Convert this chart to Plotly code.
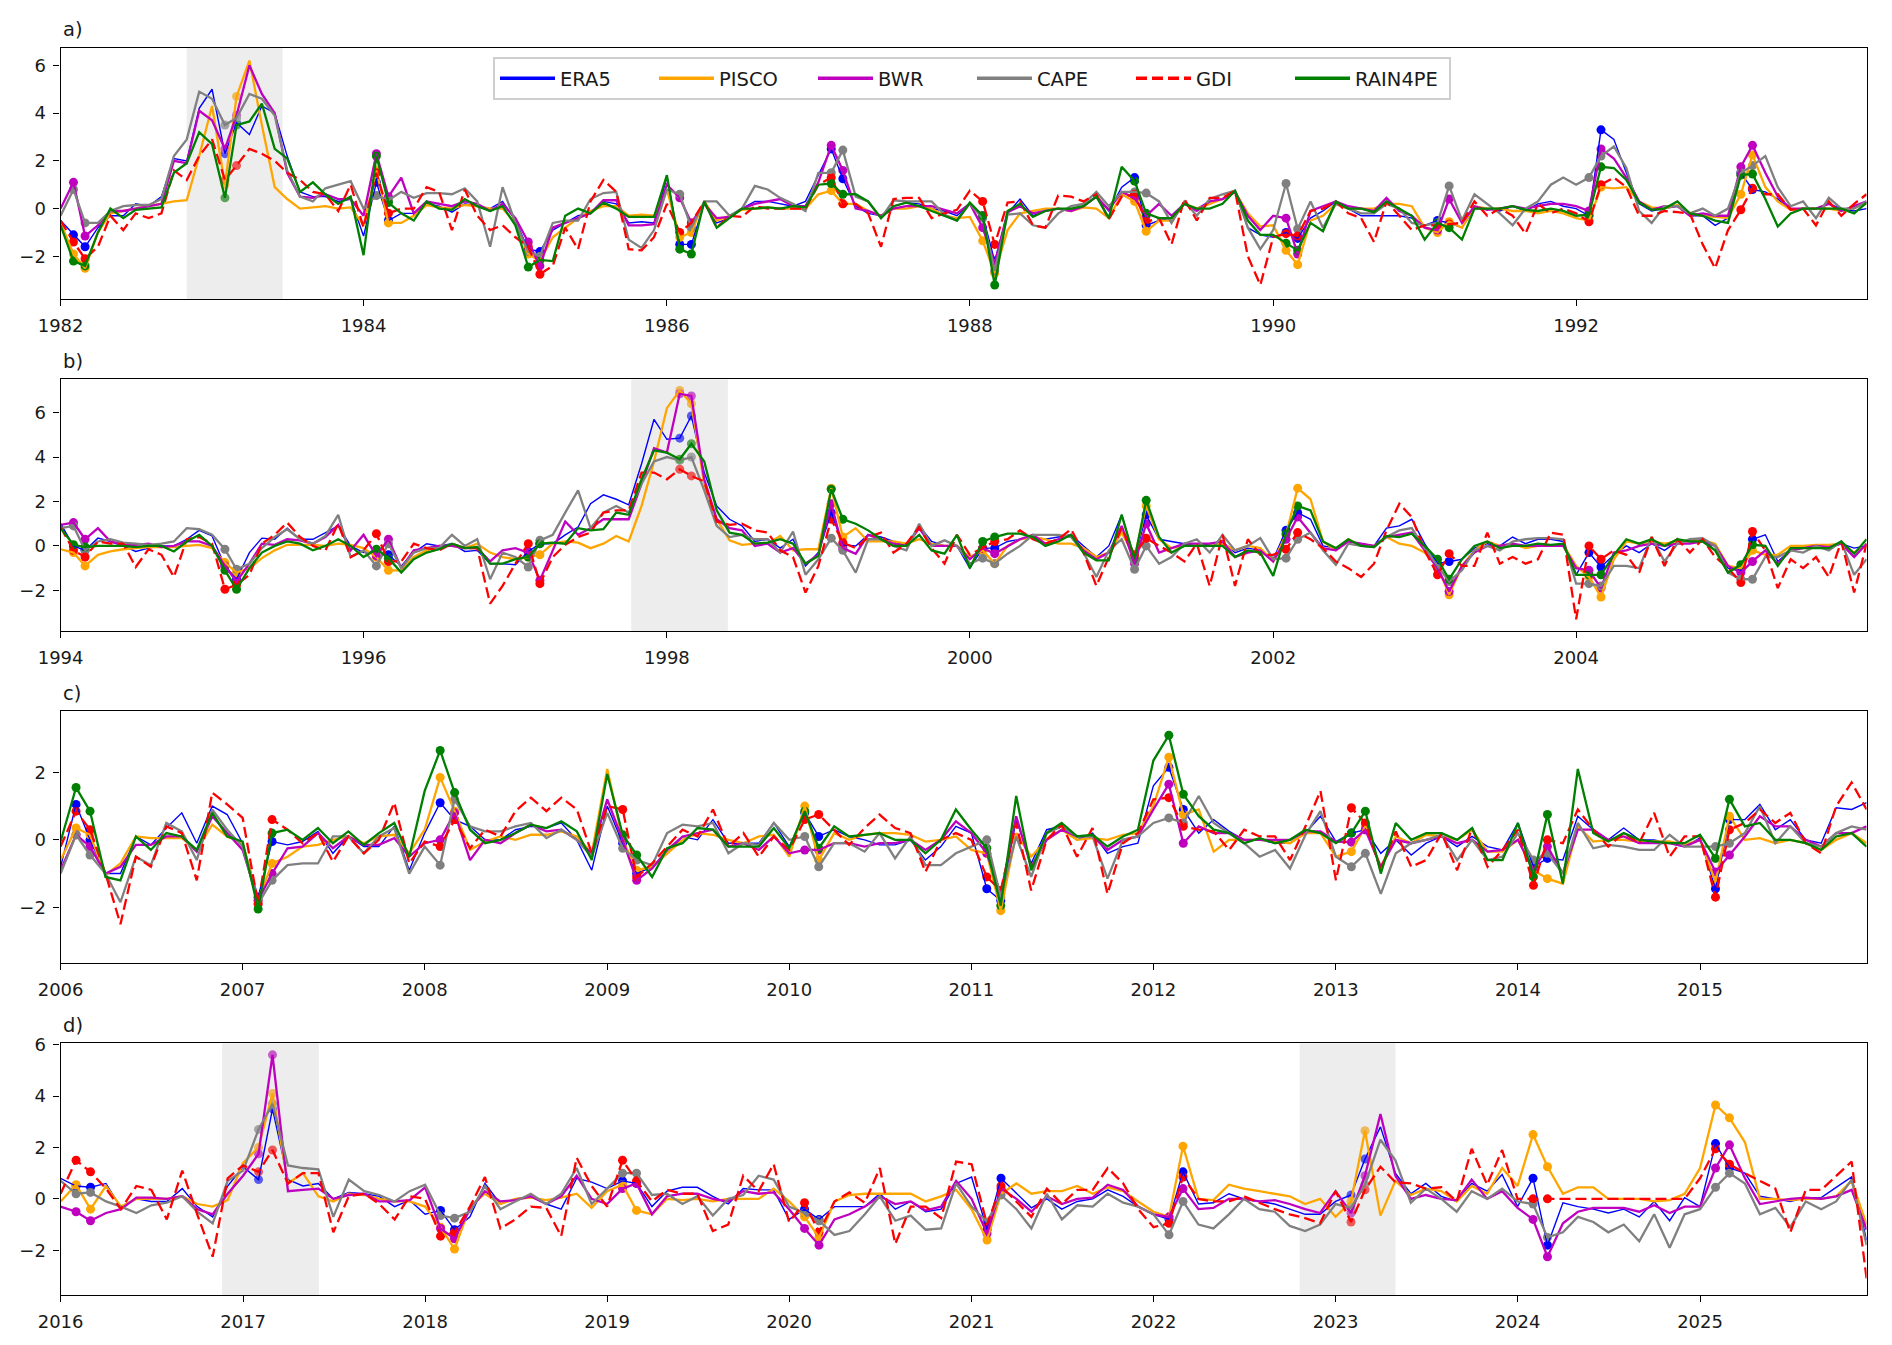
import plotly.graph_objects as go
import pandas as pd

# ---------------- data (monthly anomalies) ----------------
SERIES = ["ERA5", "PISCO", "BWR", "CAPE", "GDI", "RAIN4PE"]
COLORS = {"ERA5": "#0000ff", "PISCO": "#ffa500", "BWR": "#bf00bf",
          "CAPE": "#808080", "GDI": "#ff0000", "RAIN4PE": "#008000"}

PANEL_LABELS = ["a)", "b)", "c)", "d)"]
PANEL_START = ["1982-01-01", "1994-01-01", "2006-01-01", "2016-01-01"]
PANEL_MONTHS = [144, 144, 120, 120]
PANEL_YRANGE = [[-3.80, 6.74], [-3.83, 7.50], [-3.66, 3.81], [-3.75, 6.05]]
PANEL_DTICK = ["M24", "M24", "M12", "M12"]
PANEL_YTICKS = [[-2, 0, 2, 4, 6], [-2, 0, 2, 4, 6], [-2, 0, 2], [-2, 0, 2, 4, 6]]

# shaded periods (start, end) per panel
SPANS = [
    [("1982-11-01", "1983-06-20")],
    [("1997-10-07", "1998-05-28")],
    [],
    [("2016-11-20", "2017-06-02"), ("2022-10-21", "2023-05-01")],
]

ERA5_a = [-0.5, -1.1, -1.6, -0.8, -0.3, -0.3, 0.2, 0.1, 0.5, 2.1, 2.0, 4.2,
          5.0, 2.3, 3.6, 3.1, 4.3, 4.0, 2.2, 0.7, 0.5, 0.5, 0.3, 0.4,
          -1.15, 1.1, -0.5, -0.2, -0.2, 0.2, 0.1, -0.15, 0.2, 0.1, 0.0, 0.3,
          -0.5, -1.7, -1.8, -0.9, -0.6, -0.3, -0.2, 0.3, 0.2, -0.6, -0.55, -0.6,
          1.3, -1.5, -1.5, 0.2, -0.6, -0.4, 0.0, 0.3, 0.3, 0.2, 0.1, 0.3,
          1.4, 2.5, 1.25, 0.1, -0.2, -0.3, 0.1, 0.25, 0.2, 0.0, -0.1, -0.3,
          0.2, -0.3, -2.2, -0.2, 0.4, -0.3, -0.1, 0.0, -0.05, 0.1, 0.5, -0.1,
          0.9, 1.3, -0.7, -0.5, -0.4, 0.2, 0.0, 0.3, 0.4, 0.7, -0.8, -1.1,
          -1.2, -1.0, -1.25, -0.4, -0.1, 0.3, 0.0, -0.3, -0.3, -0.3, -0.3, -0.4,
          -0.7, -0.5, -0.6, -0.8, 0.0, 0.0, -0.1, 0.1, -0.1, 0.2, 0.3, 0.1,
          0.0, -0.3, 3.3, 2.9, 1.5, 0.2, -0.1, 0.0, 0.1, -0.3, -0.3, -0.7,
          -0.4, 1.5, 0.8, 0.7, 0.4, -0.05, 0.0, 0.0, 0.2, 0.0, -0.1, 0.0]
PISCO_a = [-0.6, -1.9, -2.5, -1.0, -0.2, -0.1, 0.0, 0.1, 0.2, 0.3, 0.35, 2.2,
           4.3, 1.0, 4.7, 6.2, 3.5, 0.9, 0.4, 0.0, 0.05, 0.1, 0.0, 0.05,
           -0.7, 1.6, -0.6, -0.6, -0.3, 0.15, 0.05, 0.0, 0.15, 0.1, 0.0, 0.0,
           -0.6, -1.9, -2.2, -1.2, -0.8, -0.4, -0.1, 0.1, 0.1, -0.3, -0.25, -0.3,
           0.8, -1.2, -1.0, 0.3, -0.5, -0.3, -0.05, 0.0, 0.05, 0.0, 0.0, 0.0,
           0.6, 0.75, 0.2, 0.2, -0.1, -0.3, 0.0, 0.0, 0.1, 0.0, -0.3, -0.4,
           -0.35, -1.35, -2.7, -0.9, -0.2, -0.1, 0.0, 0.0, -0.1, 0.05, 0.0, -0.4,
           0.6, 0.3, -0.95, -0.5, -0.5, 0.2, 0.0, 0.2, 0.4, 0.7, -0.2, -0.75,
           -0.7, -1.75, -2.35, -0.5, -0.3, 0.2, 0.0, 0.0, 0.0, 0.2, 0.2, 0.1,
           -0.8, -1.0, -0.55, -0.8, 0.1, 0.0, 0.0, -0.1, -0.1, -0.2, -0.1, -0.2,
           -0.4, -0.5, 0.9, 0.85, 0.9, 0.3, 0.05, 0.0, 0.15, -0.2, -0.3, -0.35,
           -0.4, 0.6, 2.25, 0.9, 0.3, -0.05, 0.0, 0.0, 0.0, -0.1, 0.05, 0.2]
BWR_a = [0.0, 1.1, -1.15, -0.7, -0.1, -0.1, 0.0, 0.1, 0.2, 2.0, 1.9, 4.1,
         3.7, 2.5, 3.9, 6.0, 4.8, 4.0, 1.5, 0.5, 0.45, 0.6, 0.4, 0.4,
         -0.3, 2.3, 0.5, 1.3, -0.2, 0.3, 0.2, 0.1, 0.3, 0.2, -0.1, 0.2,
         -0.4, -1.4, -2.4, -0.8, -0.6, -0.4, -0.2, 0.35, 0.35, -0.7, -0.7, -0.65,
         1.0, 0.45, -0.6, 0.2, -0.4, -0.35, 0.0, 0.2, 0.3, 0.4, 0.1, 0.1,
         1.1, 2.65, 1.6, 0.0, -0.1, -0.3, 0.0, 0.1, 0.1, 0.1, -0.05, -0.2,
         0.2, -0.8, -2.3, -0.15, 0.1, -0.2, -0.1, 0.0, -0.1, 0.1, 0.5, -0.05,
         0.7, 0.45, -0.3, 0.2, -0.3, 0.2, -0.1, 0.3, 0.4, 0.7, -0.3, -0.9,
         -0.3, -0.4, -1.9, -0.1, 0.1, 0.3, 0.1, 0.0, -0.1, 0.45, -0.1, -0.3,
         -0.8, -0.9, 0.4, -0.6, 0.1, -0.05, 0.0, 0.1, 0.0, 0.1, 0.2, 0.2,
         0.1, -0.1, 2.5, 2.1, 1.3, 0.3, -0.05, 0.1, 0.1, -0.3, -0.2, -0.3,
         -0.3, 1.75, 2.65, 1.5, 0.5, 0.0, 0.0, 0.0, 0.2, -0.1, 0.1, 0.3]
CAPE_a = [-0.3, 0.8, -0.6, -0.6, -0.1, 0.1, 0.15, 0.15, 0.4, 2.2, 2.9, 4.9,
          4.6, 3.5, 3.8, 4.8, 4.6, 3.9, 1.6, 0.5, 0.3, 0.85, 1.0, 1.15,
          0.0, 0.55, 0.35, 0.7, 0.45, 0.65, 0.65, 0.6, 0.85, 0.3, -1.6, 0.9,
          -0.6, -1.8, -2.0, -0.6, -0.5, -0.5, 0.4, 0.65, 0.7, -1.3, -1.65, -0.9,
          0.8, 0.6, -0.8, 0.3, 0.3, -0.3, 0.0, 0.95, 0.8, 0.45, 0.2, -0.1,
          1.5, 1.5, 2.45, 0.5, 0.3, -0.4, 0.35, 0.3, 0.3, 0.3, -0.25, -0.5,
          0.2, -0.4, -2.6, -0.25, -0.2, -0.7, -0.8, -0.2, 0.1, 0.2, 0.7, 0.1,
          0.7, 0.7, 0.65, 0.3, -0.6, 0.3, -0.3, 0.4, 0.6, 0.75, -0.8, -1.7,
          -0.9, 1.05, -0.85, 0.3, -0.8, 0.2, 0.0, -0.2, -0.2, 0.2, 0.0, -0.6,
          -0.7, -0.6, 0.95, -0.5, 0.6, 0.2, -0.2, -0.7, 0.0, 0.3, 1.0, 1.3,
          1.0, 1.3, 2.2, 2.6, 1.7, -0.1, -0.6, 0.1, 0.1, -0.2, 0.0, -0.3,
          0.0, 1.5, 1.8, 2.2, 0.9, 0.1, 0.3, -0.4, 0.45, 0.0, 0.0, 0.3]
GDI_a = [-0.5, -1.4, -2.1, -1.6, -0.3, -0.9, -0.2, -0.4, -0.2, 1.6, 1.2, 2.2,
         2.9, 1.2, 1.8, 2.5, 2.3, 2.0, 1.5, 1.2, 0.7, 0.6, -0.1, 1.0,
         -0.8, 1.5, -0.2, 0.0, 0.0, 0.9, 0.7, -0.9, 0.8, -0.3, -0.9, -0.7,
         -1.2, -1.6, -2.75, -2.4, -0.8, -1.7, 0.3, 1.2, 0.7, -1.7, -1.75, -1.2,
         0.2, -1.0, -0.6, 0.3, -0.8, -0.3, -0.35, 0.1, 0.0, 0.0, 0.0, 0.0,
         1.0, 1.3, 0.2, 0.2, -0.2, -1.6, 0.4, 0.45, 0.45, -0.4, -0.2, -0.05,
         0.75, 0.3, -1.5, 0.25, 0.3, -0.7, -0.8, 0.55, 0.5, 0.3, 0.6, -0.45,
         0.5, 0.6, -0.55, -0.4, -1.5, 0.4, -0.5, 0.45, 0.45, 0.75, -2.0, -3.2,
         -1.2, -1.05, -1.15, -0.1, 0.0, 0.3, -0.2, -0.4, -1.4, 0.3, -0.3, -0.9,
         -0.7, -0.7, -0.65, -0.6, 0.3, -0.3, 0.0, -0.3, -1.05, 0.2, -0.2, 0.0,
         -0.2, -0.55, 1.0, 1.3, 0.9, -0.3, -0.3, -0.1, -0.15, -0.2, -1.5, -2.5,
         -0.9, -0.05, 0.85, 0.6, 0.6, -0.05, 0.0, -0.7, 0.3, -0.3, 0.2, 0.6]
RAIN4PE_a = [-0.7, -2.2, -2.4, -1.0, 0.0, -0.4, -0.05, 0.0, 0.05, 1.5, 1.9, 3.2,
             2.7, 0.45, 3.5, 3.65, 4.4, 2.5, 2.1, 0.7, 1.1, 0.6, 0.2, 0.5,
             -1.95, 2.2, 0.25, -0.2, -0.5, 0.3, 0.0, -0.05, 0.4, 0.1, -0.1, 0.1,
             -0.7, -2.45, -2.15, -2.2, -0.3, 0.0, -0.2, 0.25, 0.0, -0.35, -0.35, -0.35,
             1.4, -1.7, -1.9, 0.3, -0.8, -0.4, 0.0, 0.0, 0.05, 0.0, 0.1, 0.05,
             1.0, 1.05, 0.6, 0.6, 0.3, -0.4, 0.1, 0.25, 0.1, -0.1, -0.3, -0.5,
             0.25, -0.3, -3.2, -0.1, 0.2, -0.35, -0.1, 0.0, 0.0, 0.1, 0.5, -0.4,
             1.75, 1.15, -0.2, -0.4, -0.4, 0.2, 0.0, 0.0, 0.2, 0.75, -0.5, -1.1,
             -1.1, -1.45, -1.75, -0.6, -0.95, 0.3, 0.0, 0.0, -0.15, 0.3, 0.0, -0.3,
             -1.3, -0.6, -0.8, -1.3, 0.0, 0.0, 0.0, 0.1, -0.05, -0.1, 0.0, -0.1,
             -0.3, -0.25, 1.75, 1.7, 1.2, 0.25, -0.05, 0.0, 0.3, -0.2, -0.3, -0.5,
             -0.6, 1.4, 1.45, 0.4, -0.75, -0.2, 0.0, 0.0, 0.0, 0.0, -0.2, 0.25]

ERA5_b = [1.0, 0.0, -0.2, 0.35, 0.2, 0.0, -0.25, -0.1, 0.0, 0.0, 0.3, 0.7,
          0.45, -0.9, -1.5, -0.3, 0.35, 0.3, 0.8, 0.3, 0.3, 0.6, 0.9, 0.0,
          -0.3, -0.2, -0.4, -0.9, -0.3, 0.1, 0.0, 0.1, -0.25, -0.2, -0.8, -0.8,
          -0.85, -0.25, 0.1, 0.1, 0.5, 0.85, 1.9, 2.3, 2.1, 1.85, 3.7, 5.7,
          4.8, 4.85, 5.85, 3.3, 1.8, 1.2, 0.9, 0.2, 0.3, -0.1, 0.3, -0.9,
          -0.3, 1.5, 0.05, 0.0, 0.5, 0.4, 0.2, 0.0, 0.9, 0.2, 0.0, 0.0,
          -1.0, -0.1, -0.1, 0.2, 0.3, 0.4, 0.3, 0.4, 0.5, 0.0, -0.5, 0.0,
          1.4, -0.6, 1.4, 0.3, 0.2, 0.1, 0.0, 0.1, 0.2, -0.3, -0.1, -0.2,
          -0.6, 0.7, 1.5, 1.2, 0.0, -0.1, 0.2, 0.1, 0.0, 0.8, 0.9, 1.2,
          0.1, -0.8, -0.7, -0.6, -0.1, 0.1, 0.0, 0.4, 0.1, 0.3, 0.3, 0.2,
          -1.3, -0.3, -0.95, -0.4, 0.0, -0.3, 0.1, -0.2, 0.2, 0.2, 0.3, -0.2,
          -1.0, -1.1, 0.3, 0.5, -0.7, -0.2, -0.1, -0.1, -0.1, 0.1, -0.1, 0.0]
PISCO_b = [-0.15, -0.3, -0.9, -0.4, -0.25, -0.15, -0.1, -0.05, -0.05, -0.05, 0.0, 0.05,
           -0.1, -0.75, -1.2, -1.0, -0.55, -0.2, 0.05, 0.05, 0.05, 0.0, 0.1, 0.05,
           -0.1, -0.5, -1.1, -1.1, -0.5, -0.2, 0.0, 0.0, -0.1, 0.1, -0.3, -0.5,
           -0.6, -0.5, -0.4, 0.1, 0.2, 0.15, -0.1, 0.1, 0.45, 0.2, 1.8, 3.8,
           6.2, 7.0, 6.4, 2.8, 1.2, 0.25, 0.05, 0.1, 0.1, 0.45, -0.2, -0.15,
           -0.15, 2.6, 0.4, 0.8, 0.2, 0.2, 0.2, 0.1, 0.3, 0.1, 0.0, 0.0,
           -0.5, -0.2, -0.8, 0.0, 0.3, 0.4, 0.3, 0.1, 0.1, -0.1, -0.5, -0.3,
           0.6, -0.5, 1.8, 0.3, -0.1, 0.0, 0.0, 0.0, 0.1, -0.2, 0.0, -0.1,
           -0.7, 0.5, 2.6, 2.1, 0.2, -0.2, 0.3, 0.0, 0.0, 0.4, 0.1, 0.0,
           -0.3, -0.9, -2.2, -0.9, -0.2, 0.2, 0.0, 0.1, -0.1, 0.0, 0.0, 0.05,
           -0.9, -1.4, -2.3, -0.6, 0.2, 0.1, 0.2, 0.1, 0.2, 0.2, 0.25, 0.1,
           -0.9, -1.0, -0.2, -0.4, -0.4, 0.0, 0.0, 0.05, 0.05, 0.1, -0.3, 0.0]
BWR_b = [0.95, 1.05, 0.3, 0.8, 0.2, 0.05, 0.05, 0.1, -0.05, 0.0, 0.2, 0.2,
         0.0, -0.9, -1.6, -0.8, 0.1, 0.05, 0.3, 0.25, 0.1, 0.4, 0.95, -0.2,
         0.5, -0.45, 0.3, -1.0, -0.2, -0.1, 0.0, 0.0, -0.1, -0.1, -0.7, -0.2,
         -0.1, -0.3, -1.55, -0.2, 1.1, 0.5, 0.8, 1.2, 1.2, 1.2, 2.8, 4.4,
         4.2, 6.85, 6.75, 3.0, 1.2, 0.8, 0.7, 0.0, 0.1, -0.3, -0.1, -0.8,
         -0.4, 1.9, -0.1, -0.35, 0.5, 0.3, 0.1, 0.0, 0.8, 0.0, 0.0, 0.0,
         -0.6, -0.1, -0.35, 0.0, 0.3, 0.5, 0.1, 0.3, 0.5, -0.2, -0.6, -0.3,
         0.9, -0.8, 1.0, -0.3, -0.1, 0.1, 0.1, 0.1, 0.2, -0.5, -0.3, -0.2,
         -0.7, 0.3, 1.3, 0.6, -0.1, -0.2, 0.2, 0.1, 0.0, 0.4, 0.5, 0.6,
         -0.2, -1.0, -2.05, -0.9, -0.3, 0.0, 0.0, 0.1, 0.0, 0.0, 0.0, 0.0,
         -1.0, -1.1, -1.9, -0.3, -0.2, 0.0, 0.1, 0.0, 0.1, 0.1, 0.2, 0.0,
         -0.9, -1.2, -0.7, -0.2, -0.8, -0.2, -0.1, 0.0, -0.05, 0.1, -0.5, 0.1]
CAPE_b = [0.8, 0.9, -0.2, 0.2, 0.3, 0.15, 0.1, 0.05, 0.1, 0.2, 0.8, 0.75,
          0.5, -0.15, -1.05, -0.8, -0.1, 0.4, 0.75, 0.3, 0.1, 0.45, 1.4, -0.5,
          -0.2, -0.9, 0.1, -1.0, -0.3, -0.1, -0.1, 0.5, 0.0, 0.3, -1.5, -0.3,
          -0.5, -0.95, 0.25, 0.5, 1.5, 2.5, 0.8, 1.5, 1.8, 1.5, 2.8, 3.8,
          4.0, 3.85, 4.0, 2.5, 0.9, 0.4, 0.5, 0.3, 0.3, -0.3, 0.65, -1.3,
          -0.6, 0.35, -0.2, -1.2, 0.3, 0.3, 0.0, -0.2, 1.0, 0.0, 0.25, 0.0,
          -0.8, -0.55, -0.8, -0.35, 0.0, 0.5, 0.5, 0.5, 0.4, -0.3, -1.4, -0.2,
          0.3, -1.05, 0.0, -0.8, -0.5, 0.1, 0.3, -0.3, 0.5, -0.2, 0.0, 0.35,
          -0.6, -0.55, 0.3, 0.6, -0.2, -0.85, 0.1, 0.0, -0.05, 0.4, 0.7, 0.8,
          -0.1, -0.9, -1.6, -1.1, -0.2, 0.0, -0.2, 0.2, 0.3, 0.35, 0.35, 0.3,
          -1.7, -1.7, -1.8, -0.9, -0.9, -1.0, 0.4, -0.7, 0.1, 0.3, 0.35, 0.0,
          -1.2, -1.5, -1.5, -0.5, -0.5, -0.2, -0.3, 0.0, -0.2, 0.2, -1.3, -0.6]
GDI_b = [0.85, -0.2, -0.5, 0.2, 0.1, 0.1, -0.95, -0.15, -0.4, -1.4, 0.3, 0.4,
         0.1, -1.95, -1.75, -1.3, 0.1, 0.5, 1.05, 0.4, 0.0, -0.2, 1.0, -0.5,
         -0.2, 0.55, -0.7, -0.7, 0.1, -0.1, -0.2, 0.1, -0.1, -0.1, -2.6, -1.8,
         -0.8, 0.1, -1.7, -0.5, 0.05, 0.4, 0.6, 1.5, 1.6, 1.6, 3.3, 3.3,
         3.0, 3.45, 3.15, 2.9, 1.1, 0.95, 1.0, 0.7, 0.6, -0.2, -0.5, -2.1,
         -0.9, 1.2, 0.15, -0.1, 0.4, 0.6, -0.3, 0.1, 0.85, -0.1, -0.8, 0.5,
         -0.4, -0.1, 0.2, 0.3, 0.7, 0.3, 0.1, 0.3, 0.75, -0.3, -1.8, -0.5,
         0.8, -0.4, 0.35, 0.0, -0.3, -0.7, 0.1, -1.8, 0.5, -1.8, 0.3, -0.4,
         -0.4, -0.15, 0.6, 0.3, -0.1, -0.7, -1.0, -1.4, -0.8, 0.7, 1.9, 1.3,
         -0.2, -1.3, -0.35, -0.9, -0.9, 0.6, -0.8, -0.5, -0.8, -0.6, 0.6, 0.5,
         -3.3, 0.0, -0.6, -0.2, -0.4, -1.2, 0.4, -0.9, 0.3, -0.3, 0.3, -0.5,
         -1.0, -1.65, 0.65, -0.2, -1.9, -0.6, -1.0, -0.5, -1.4, 0.2, -2.1, 0.1]
RAIN4PE_b = [0.8, 0.05, -0.05, 0.0, 0.0, 0.0, -0.05, 0.0, 0.0, -0.25, 0.2, 0.5,
             0.0, -1.1, -1.95, -1.0, -0.3, 0.0, 0.2, 0.1, -0.2, 0.0, 0.3, 0.0,
             -0.5, -0.15, -0.55, -1.2, -0.6, -0.3, -0.15, 0.1, -0.1, -0.05, -0.8, -0.8,
             -0.6, -0.5, 0.1, 0.15, 0.1, 0.8, 0.7, 0.75, 1.5, 1.4, 3.0, 4.3,
             4.2, 3.9, 4.6, 3.8, 1.6, 0.6, 0.5, 0.1, 0.15, 0.3, 0.1, -0.8,
             -0.45, 2.55, 1.2, 1.0, 0.7, 0.3, 0.0, 0.0, 0.5, -0.2, -0.35, 0.5,
             -1.0, 0.2, 0.4, 0.55, 0.55, 0.4, 0.0, 0.2, 0.5, -0.3, -0.65, -0.65,
             1.4, -0.6, 2.05, 0.4, -0.3, 0.0, 0.0, 0.0, 0.0, -0.5, -0.2, -0.3,
             -1.35, 0.55, 1.8, 1.6, 0.2, -0.1, 0.3, 0.0, -0.05, 0.45, 0.4, 0.55,
             0.0, -0.6, -1.5, -0.6, 0.0, 0.2, -0.1, 0.0, 0.0, 0.1, 0.05, 0.1,
             -1.3, -1.3, -1.3, -0.4, 0.3, 0.1, 0.3, 0.0, 0.3, 0.2, 0.2, -0.2,
             -1.2, -0.85, 0.05, 0.0, -0.9, -0.1, -0.1, -0.1, -0.1, 0.2, -0.35, 0.3]

ERA5_c = [-0.8, 1.05, 0.0, -1.0, -1.0, 0.1, -0.15, 0.35, 0.8, -0.1, 1.0, 0.75,
          -0.1, -1.7, -0.05, -0.15, -0.05, 0.25, -0.4, 0.1, -0.2, -0.2, 0.4, -0.9,
          0.2, 1.1, 0.6, 0.4, 0.0, 0.0, 0.3, 0.4, 0.35, 0.5, 0.0, -0.9,
          1.0, -0.1, -1.0, -0.8, -0.4, 0.1, 0.0, 0.6, -0.1, -0.1, -0.1, 0.5,
          -0.2, 0.8, 0.1, 0.3, 0.1, 0.0, -0.15, -0.15, 0.0, -0.6, -0.2, 0.4,
          0.2, -1.45, -1.8, 0.6, -0.7, 0.3, 0.4, 0.0, 0.2, -0.4, -0.2, -0.1,
          1.6, 2.15, 0.9, 0.2, 0.6, 0.25, 0.0, 0.0, -0.1, -0.1, 0.2, 0.7,
          -0.05, 0.2, 0.3, -0.4, 0.0, -0.45, -0.1, 0.1, -0.2, 0.1, -0.2, -0.3,
          0.5, -0.8, -0.55, -0.6, 0.7, 0.3, 0.0, 0.35, 0.0, 0.0, -0.1, -0.2,
          0.05, -1.45, 0.6, 0.6, 1.05, 0.3, 0.6, 0.0, -0.1, 0.95, 0.9, 1.1]
PISCO_c = [-0.6, 0.35, 0.15, -1.05, -0.7, 0.1, 0.05, 0.05, 0.05, -0.3, 0.45, 0.1,
           -0.1, -1.8, -0.7, -0.5, -0.2, -0.15, 0.0, 0.1, -0.1, 0.1, 0.15, -0.4,
           0.3, 1.85, 0.85, -0.3, -0.05, 0.1, 0.0, 0.15, 0.15, 0.25, 0.1, -0.4,
           2.1, 0.0, -0.9, -0.8, -0.4, 0.0, 0.2, 0.15, 0.0, -0.1, 0.1, 0.15,
           -0.5, 1.0, -0.6, 0.2, 0.0, 0.15, 0.2, 0.2, 0.15, -0.05, 0.0, 0.1,
           -0.3, -0.4, -2.1, 0.2, -0.5, 0.0, 0.3, 0.0, 0.05, 0.0, 0.15, 0.2,
           1.0, 2.45, 0.75, 0.9, -0.35, 0.0, 0.0, 0.0, -0.05, -0.1, 0.2, 0.2,
           -0.5, -0.35, 0.4, -0.8, 0.1, -0.1, 0.15, 0.1, 0.0, 0.3, -0.35, -0.35,
           0.0, -0.9, -1.15, -1.3, 0.4, -0.05, 0.0, 0.0, -0.05, -0.05, -0.05, -0.15,
           0.0, -1.25, 0.7, 0.0, 0.05, -0.1, 0.0, -0.1, -0.3, 0.0, 0.2, -0.1]
BWR_c = [-0.9, 0.15, -0.2, -1.0, -0.8, -0.15, -0.15, 0.1, 0.1, -0.35, 0.7, 0.2,
         -0.3, -1.8, -1.0, -0.25, -0.2, 0.2, -0.25, 0.1, -0.15, -0.15, 0.05, -0.5,
         -0.1, 0.0, 0.8, -0.6, 0.0, -0.1, 0.2, 0.45, 0.25, 0.3, 0.0, -0.4,
         1.2, 0.0, -1.2, -0.85, -0.3, 0.1, 0.2, 0.3, -0.2, -0.1, -0.3, 0.1,
         -0.4, -0.3, -0.3, -0.1, -0.1, -0.2, -0.1, -0.1, 0.0, -0.3, 0.0, 0.55,
         0.2, -0.4, -1.6, 0.7, -0.8, 0.0, 0.3, 0.1, 0.1, -0.3, 0.0, 0.1,
         0.9, 1.65, -0.1, 0.4, 0.2, 0.2, 0.0, 0.0, 0.0, 0.0, 0.25, 0.25,
         -0.05, -0.07, 0.3, -0.8, 0.0, -0.1, 0.0, 0.1, -0.1, 0.0, -0.35, -0.3,
         0.0, -0.9, -0.2, -1.0, 0.3, 0.3, 0.0, 0.1, -0.1, -0.1, -0.1, -0.2,
         0.0, -0.95, -0.45, 0.1, 0.7, 0.4, 0.4, 0.0, -0.2, 0.2, 0.2, 0.4]
CAPE_c = [-1.0, 0.15, -0.45, -1.0, -1.85, -0.5, -0.75, 0.5, 0.25, -0.6, 0.9, 0.3,
          -0.2, -1.9, -1.2, -0.75, -0.7, -0.7, 0.1, 0.1, -0.4, 0.1, 0.35, -1.0,
          -0.2, -0.75, 1.2, 0.4, 0.25, 0.25, 0.4, 0.5, 0.05, 0.3, 0.0, -0.5,
          0.8, -0.25, -0.6, -0.75, 0.2, 0.45, 0.4, 0.5, -0.4, -0.1, -0.15, 0.5,
          0.0, 0.1, -0.8, -0.1, -0.1, -0.35, 0.2, -0.55, 0.1, -0.75, -0.75, -0.4,
          -0.2, 0.0, -1.7, 0.1, -1.1, 0.2, 0.4, 0.1, 0.1, -1.15, 0.0, 0.1,
          0.5, 0.65, 0.5, 1.3, 0.5, 0.2, -0.1, -0.5, -0.3, -0.85, 0.15, 0.85,
          -0.5, -0.8, -0.4, -1.6, -0.4, -0.1, 0.0, 0.15, -0.6, 0.0, -0.6, -0.5,
          0.2, -0.6, -0.4, -1.0, 0.5, -0.25, -0.15, -0.2, -0.3, -0.3, 0.15, -0.2,
          -0.2, -0.2, -0.1, 0.2, 1.0, -0.1, 0.4, -0.1, -0.2, 0.2, 0.4, 0.3]
GDI_c = [-0.2, 0.85, 0.3, -1.0, -2.5, -0.5, -0.8, 0.4, 0.2, -1.2, 1.4, 1.05,
         0.65, -1.9, 0.6, 0.3, -0.1, 0.2, -0.65, 0.1, -0.4, 0.0, 1.1, -0.7,
         -0.05, -0.2, 0.6, -0.25, 0.3, 0.1, 0.85, 1.25, 0.85, 1.25, 0.9, -0.4,
         1.0, 0.9, -1.1, -0.7, -0.2, 0.3, 0.1, 0.9, -0.2, 0.2, -0.5, 0.1,
         -0.3, 0.6, 0.75, 0.3, -0.15, 0.35, 0.75, 0.35, 0.2, -0.95, 0.0, 0.2,
         0.0, -1.1, -1.5, 0.5, -1.5, 0.0, 0.45, -0.5, 0.35, -1.6, -0.1, 0.2,
         1.2, 1.25, 0.4, 0.3, 0.25, -0.3, 0.3, 0.1, 0.1, -0.6, 0.4, 1.45,
         -1.2, 0.95, 0.5, -0.9, 0.25, -0.8, -0.6, 0.2, -0.9, 0.35, -0.8, -0.3,
         0.3, -1.35, 0.0, -0.1, 0.9, 0.3, -0.2, 0.2, -0.1, 0.8, -0.5, 0.1,
         0.1, -1.7, 0.3, 0.5, 0.9, 0.5, 0.8, -0.1, -0.4, 1.0, 1.7, 0.9]
RAIN4PE_c = [-0.05, 1.55, 0.85, -1.1, -1.2, 0.1, -0.3, 0.2, 0.1, -0.3, 0.8, 0.1,
             -0.05, -2.05, 0.2, 0.3, 0.0, 0.35, -0.1, 0.25, -0.15, 0.2, 0.5, -0.5,
             1.45, 2.65, 1.4, 0.3, -0.1, 0.0, 0.2, 0.45, 0.35, 0.55, 0.25, -0.6,
             1.95, 0.15, -0.45, -1.1, -0.25, -0.1, 0.35, 0.3, -0.2, -0.2, -0.2, 0.35,
             -0.25, 0.85, -0.25, 0.4, 0.1, 0.15, 0.2, 0.0, 0.0, -0.4, 0.0, 0.9,
             0.3, -0.25, -1.95, 1.3, -0.9, 0.2, 0.5, 0.1, 0.15, -0.2, 0.1, 0.3,
             2.35, 3.1, 1.35, 0.7, 0.3, 0.2, -0.1, 0.05, -0.1, 0.0, 0.3, 0.2,
             -0.1, 0.2, 0.85, -1.0, 0.5, 0.0, 0.2, 0.2, 0.0, 0.35, -0.6, -0.6,
             0.5, -1.1, 0.75, -1.3, 2.1, 0.2, -0.05, 0.2, 0.0, -0.05, -0.1, -0.1,
             0.15, -0.55, 1.2, 0.4, 0.5, 0.0, 0.0, -0.1, -0.3, 0.1, 0.2, -0.2]

ERA5_d = [0.8, 0.5, 0.45, 0.6, -0.35, 0.0, -0.1, -0.1, 0.4, -0.3, -0.7, 0.5,
          1.25, 0.75, 3.5, 0.75, 0.5, 0.6, 0.0, 0.25, 0.2, 0.1, -0.3, -0.05,
          -0.6, -0.45, -1.2, -0.7, 0.6, -0.2, 0.0, 0.1, -0.2, -0.4, 0.8, 0.65,
          0.4, 0.7, 0.6, -0.3, 0.3, 0.45, 0.45, 0.1, -0.2, 0.4, 0.35, 0.35,
          -0.8, -0.4, -0.8, -0.3, -0.3, -0.3, 0.2, -0.4, -0.1, -0.5, -0.4, 0.6,
          0.85, -1.2, 0.8, 0.2, -0.35, 0.0, -0.4, -0.1, 0.0, 0.35, 0.1, -0.3,
          -0.6, -0.8, 1.05, -0.2, -0.15, 0.2, 0.0, -0.1, -0.2, -0.4, -0.6, -0.6,
          -0.1, 0.15, 1.55, 2.8, 1.0, 0.2, 0.6, 0.1, -0.1, 0.6, 0.3, 0.95,
          -0.3, 0.8, -1.8, -0.15, -0.3, -0.4, -0.55, -0.4, -0.7, -0.1, -0.85, 0.05,
          -0.3, 2.15, 1.2, 1.0, 0.1, 0.0, -0.1, 0.05, 0.05, 0.45, 0.85, -1.6]
PISCO_d = [-0.1, 0.55, -0.4, 0.5, -0.3, 0.0, 0.0, 0.0, 0.1, -0.2, -0.3, -0.05,
           1.4, 2.0, 4.1, 0.6, 1.0, 0.1, -0.1, 0.2, 0.15, 0.0, -0.1, -0.1,
           -0.3, -1.1, -1.95, -0.3, 0.2, -0.2, 0.0, 0.05, -0.05, 0.05, 0.2, -0.35,
           0.3, 0.55, -0.45, -0.6, 0.0, -0.05, 0.0, -0.1, 0.0, 0.0, 0.0, 0.4,
           -0.1, -0.7, -1.5, -0.1, 0.15, 0.2, 0.2, 0.2, 0.2, -0.1, 0.1, 0.35,
           -0.4, -1.6, 0.2, 0.6, 0.2, 0.3, 0.3, 0.5, 0.2, 0.45, 0.3, -0.1,
           -0.5, -0.7, 2.05, 0.0, -0.05, 0.55, 0.4, 0.3, 0.2, 0.1, -0.2, 0.0,
           -0.7, -0.1, 2.65, -0.65, 0.7, 0.15, 0.4, 0.3, -0.1, 0.5, 0.2, 1.2,
           0.5, 2.5, 1.25, 0.2, 0.45, 0.45, 0.0, 0.0, 0.0, -0.1, -0.05, 0.2,
           1.2, 3.65, 3.15, 2.2, 0.0, 0.0, -0.05, 0.0, 0.0, 0.1, 0.7, -1.0]
BWR_d = [-0.3, -0.5, -0.85, -0.55, -0.4, 0.05, 0.05, 0.0, 0.1, -0.4, -0.6, 0.2,
         0.9, 1.75, 5.6, 0.3, 0.35, 0.4, 0.0, 0.15, 0.2, -0.1, -0.1, -0.05,
         0.45, -1.15, -1.55, -0.4, 0.3, -0.1, -0.05, 0.1, -0.2, 0.1, 0.9, 0.0,
         -0.2, 0.4, 0.6, -0.6, 0.1, 0.2, 0.2, 0.0, -0.1, 0.3, 0.2, 0.25,
         -0.4, -1.15, -1.8, -0.8, -0.6, -0.3, 0.1, -0.2, -0.1, -0.45, -0.3, 0.7,
         0.0, -1.35, 0.4, 0.0, -0.5, 0.1, -0.2, 0.0, 0.05, 0.55, 0.35, -0.3,
         -0.6, -0.7, 0.4, -0.4, -0.35, 0.0, 0.0, -0.1, -0.05, -0.2, -0.4, -0.55,
         0.3, -0.55, 0.9, 3.3, 0.9, 0.0, 0.15, 0.0, -0.05, 0.75, 0.0, 0.3,
         -0.35, -0.8, -2.25, -0.95, -0.5, -0.35, -0.35, -0.35, -0.5, -0.25, -0.55, -0.3,
         -0.3, 1.2, 2.1, 0.8, -0.2, -0.1, 0.0, 0.05, 0.0, 0.1, 0.35, -1.2]
CAPE_d = [0.7, 0.2, 0.25, -0.1, -0.3, -0.55, -0.25, -0.15, 0.1, -0.5, -0.95, 0.7,
          1.1, 2.7, 3.7, 1.3, 1.2, 1.15, -0.7, 0.75, 0.3, 0.15, -0.1, 0.3,
          0.55, -0.65, -0.75, -0.5, 0.5, -0.4, -0.1, 0.2, -0.2, 0.2, 1.2, -0.2,
          0.4, 1.0, 1.0, 0.15, 0.2, -0.2, 0.1, -0.65, 0.0, 0.15, 0.9, 0.75,
          -0.3, -0.55, -0.85, -1.4, -1.25, -0.6, 0.1, -0.85, -0.65, -1.2, -1.15, 0.6,
          -0.3, -0.9, 0.15, -0.4, -1.15, 0.2, -0.8, -0.25, -0.3, 0.2, -0.15, -0.3,
          -0.6, -1.4, -0.1, -1.0, -1.15, -0.6, 0.0, -0.4, -0.5, -1.05, -1.25, -1.0,
          -0.2, -0.35, 0.55, 2.3, 1.5, -0.15, 0.4, 0.0, -0.5, 0.3, 0.0, 0.4,
          -0.1, -0.2, -1.5, -1.3, -0.7, -0.9, -1.3, -1.0, -1.65, -0.6, -1.9, -0.6,
          -0.4, 0.45, 1.0, 0.6, -0.6, -0.35, -1.1, -0.1, -0.4, -0.1, 0.75, -1.8]
GDI_d = [0.2, 1.5, 1.05, 0.4, -0.4, 0.5, 0.35, -0.8, 1.1, -0.6, -2.25, 0.8,
         1.3, 1.05, 1.9, 0.6, 1.0, 1.0, -1.3, 0.1, 0.2, -0.2, -0.8, 0.1,
         0.0, -1.45, -1.3, -0.3, 0.85, -1.15, -0.8, -0.3, -0.35, -1.45, 1.6, 0.5,
         -0.3, 1.5, 0.7, -0.1, 0.35, 0.2, 0.2, -1.25, -1.0, 0.9, 0.3, 1.35,
         -0.9, -0.15, -1.3, -0.1, 0.25, -0.15, 1.2, -1.75, -0.3, -0.3, -0.75, 1.45,
         1.35, -1.0, 0.5, -0.1, -0.7, 0.4, -0.2, 0.35, 0.35, 1.2, 0.6, -0.4,
         -1.1, -0.95, 0.85, 0.0, -0.1, -0.1, 0.1, -0.15, -0.4, -0.6, -0.75, -0.95,
         0.3, -0.9, 0.35, 1.25, 0.65, 0.6, 0.4, 0.45, -0.1, 1.95, 0.55, 1.9,
         0.0, 0.0, 0.0, 0.0, 0.0, 0.0, 0.0, 0.0, 0.0, 0.0, 0.0, 0.0,
         0.8, 1.95, 1.35, 1.0, 0.7, 0.4, -1.3, 0.35, 0.35, 0.9, 1.45, -3.1]

PANEL_DATA = [
    {"ERA5": ERA5_a, "PISCO": PISCO_a, "BWR": BWR_a, "CAPE": CAPE_a, "GDI": GDI_a, "RAIN4PE": RAIN4PE_a},
    {"ERA5": ERA5_b, "PISCO": PISCO_b, "BWR": BWR_b, "CAPE": CAPE_b, "GDI": GDI_b, "RAIN4PE": RAIN4PE_b},
    {"ERA5": ERA5_c, "PISCO": PISCO_c, "BWR": BWR_c, "CAPE": CAPE_c, "GDI": GDI_c, "RAIN4PE": RAIN4PE_c},
    {"ERA5": ERA5_d, "PISCO": PISCO_d, "BWR": BWR_d, "CAPE": CAPE_d, "GDI": GDI_d},
]
MARKER_MONTHS = [2, 3]  # Feb and March highlighted

# ---------------- layout geometry ----------------
W, H = 1892, 1345
X_DOMAIN = [60.6 / W, 1866.6 / W]
Y_PIX = [(47.7, 299.3), (379.3, 631.0), (711.3, 963.3), (1043.3, 1295.3)]
LINE_W = {"ERA5": 1.4, "PISCO": 2.3, "BWR": 2.3, "CAPE": 2.3, "GDI": 2.3, "RAIN4PE": 2.3}
DASH = "11px,5px"

fig = go.Figure()
FONT = "DejaVu Sans, Verdana, sans-serif"

for p in range(4):
    ax = "" if p == 0 else str(p + 1)
    xa, ya = "x" + ax, "y" + ax
    dates = pd.date_range(PANEL_START[p], periods=PANEL_MONTHS[p], freq="MS")
    data = PANEL_DATA[p]
    # markers for Feb/Mar (drawn first, under the shading)
    for s in SERIES:
        if s not in data:
            continue
        vals = data[s]
        mx = [d for d in dates if d.month in MARKER_MONTHS]
        my = [v for d, v in zip(dates, vals) if d.month in MARKER_MONTHS]
        fig.add_trace(go.Scatter(x=mx, y=my, mode="markers", xaxis=xa, yaxis=ya,
                                 marker=dict(size=9, color=COLORS[s], line=dict(width=0)),
                                 showlegend=False, hoverinfo="skip"))
    # shaded periods (semi-transparent, above markers)
    ylo, yhi = PANEL_YRANGE[p]
    for (s0, s1) in SPANS[p]:
        fig.add_trace(go.Scatter(x=[s0, s0, s1, s1, s0], y=[ylo, yhi, yhi, ylo, ylo],
                                 mode="lines", fill="toself", fillcolor="rgba(211,211,211,0.42)",
                                 line=dict(width=0), xaxis=xa, yaxis=ya,
                                 showlegend=False, hoverinfo="skip"))
    # lines
    for s in SERIES:
        if s not in data:
            continue
        fig.add_trace(go.Scatter(x=dates, y=data[s], mode="lines", xaxis=xa, yaxis=ya,
                                 line=dict(color=COLORS[s], width=LINE_W[s],
                                           dash=DASH if s == "GDI" else "solid"),
                                 showlegend=False, name=s))

# legend entries (thicker handles as in the reference legend)
for s in SERIES:
    fig.add_trace(go.Scatter(x=[None], y=[None], mode="lines", name=s, xaxis="x", yaxis="y",
                             line=dict(color=COLORS[s], width=3.4,
                                       dash=DASH if s == "GDI" else "solid"),
                             showlegend=True))

axis_common = dict(showline=True, linecolor="black", linewidth=1.3, mirror=True,
                   ticks="outside", ticklen=6, tickwidth=1.3, tickcolor="black",
                   showgrid=False, zeroline=False, automargin=False,
                   tickfont=dict(size=18, color="#1a1a1a", family=FONT))

layout = dict(width=W, height=H, margin=dict(l=0, r=0, t=0, b=0, autoexpand=False),
              paper_bgcolor="white", plot_bgcolor="white",
              font=dict(family=FONT, size=18, color="#1a1a1a"),
              showlegend=True,
              legend=dict(orientation="h", x=493 / W, xanchor="left",
                          y=1 - 57 / H, yanchor="top",
                          bgcolor="rgba(255,255,255,0.85)", bordercolor="#cfcfcf", borderwidth=2,
                          font=dict(size=19.5, family=FONT, color="#1a1a1a"),
                          entrywidth=89, entrywidthmode="pixels", itemwidth=55,
                          traceorder="normal"),
              annotations=[])

for p in range(4):
    ax = "" if p == 0 else str(p + 1)
    top, bot = Y_PIX[p]
    start = pd.Timestamp(PANEL_START[p])
    end = pd.date_range(PANEL_START[p], periods=PANEL_MONTHS[p], freq="MS")[-1]
    layout["xaxis" + ax] = dict(axis_common, type="date", domain=X_DOMAIN,
                                range=[start, end], tick0=start, dtick=PANEL_DTICK[p],
                                tickformat="%Y", anchor="y" + ax, ticklabelstandoff=4)
    layout["yaxis" + ax] = dict(axis_common, domain=[1 - bot / H, 1 - top / H],
                                range=PANEL_YRANGE[p], tickvals=PANEL_YTICKS[p],
                                anchor="x" + ax, ticklabelstandoff=4)
    layout["annotations"].append(dict(text=PANEL_LABELS[p], xref="paper", yref="paper",
                                      x=61 / W, y=1 - (top - 18) / H, xanchor="left",
                                      yanchor="middle", showarrow=False,
                                      font=dict(size=19.5, family=FONT, color="#1a1a1a")))

fig.update_layout(**layout)
fig.write_html("out.html", config={"displayModeBar": False},
               post_script="document.body.style.margin='0';document.body.style.overflow='hidden';")
